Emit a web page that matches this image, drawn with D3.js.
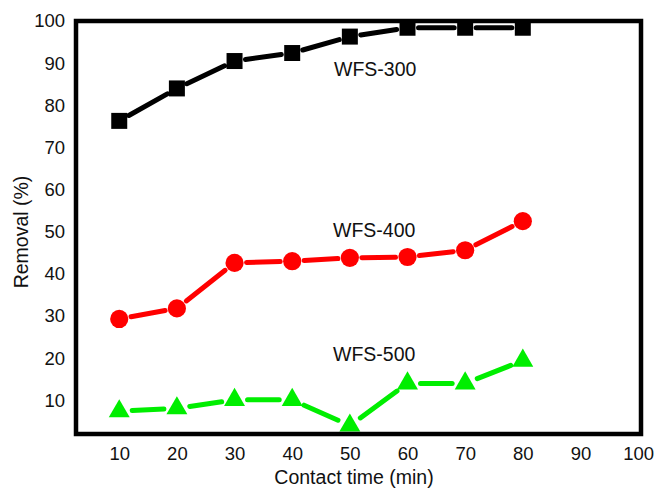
<!DOCTYPE html>
<html>
<head>
<meta charset="utf-8">
<script src="https://cdn.jsdelivr.net/npm/d3@7"></script>
<style>
  body { margin: 0; background: #fff; }
  svg text { font-family: "Liberation Sans", Arial, Helvetica, sans-serif; fill: #111; }
</style>
</head>
<body>
<div id="chart"></div>
<script>
// contact time (min)
const times = [10, 20, 30, 40, 50, 60, 70, 80];
// removal (%)
const wfs300 = [76.3, 84, 90.5, 92.4, 96.3, 98.4, 98.4, 98.4];
const wfs400 = [29.3, 31.8, 42.6, 43, 43.8, 44, 45.6, 52.5];
const wfs500 = [7.4, 8.1, 10.1, 10.1, 4, 14, 14, 19.4];
const xTicks = [10, 20, 30, 40, 50, 60, 70, 80, 90, 100];
const yTicks = [10, 20, 30, 40, 50, 60, 70, 80, 90, 100];

const width = 658, height = 488;
const plotLeft = 76, plotRight = 641, plotTop = 21, plotBottom = 434;

const svg = d3.select('#chart').append('svg')
  .attr('width', width)
  .attr('height', height);

const x = d3.scaleLinear().domain([2.5, 100.5]).range([plotLeft, plotRight]);
const y = d3.scaleLinear().domain([2, 100]).range([plotBottom, plotTop]);

// axes without tick marks, just the labels
const xAxis = svg.append('g')
  .attr('transform', `translate(0,${plotBottom})`)
  .call(d3.axisBottom(x).tickValues(xTicks).tickSize(0).tickPadding(13));
const yAxis = svg.append('g')
  .attr('transform', `translate(${plotLeft},0)`)
  .call(d3.axisLeft(y).tickValues(yTicks).tickSize(0).tickPadding(11));
[xAxis, yAxis].forEach(g => {
  g.select('.domain').remove();
  g.selectAll('text').attr('font-size', 18.5).style('fill', '#111')
    .attr('font-family', '"Liberation Sans", Arial, sans-serif');
});

const series = [
  { name: 'WFS-300', values: wfs300, color: '#000000', shape: 'square', gap: 11, label: [334, 76] },
  { name: 'WFS-400', values: wfs400, color: '#ff0000', shape: 'circle', gap: 12, label: [333, 237] },
  { name: 'WFS-500', values: wfs500, color: '#00ee00', shape: 'triangle', gap: 13, label: [333, 361] }
];

series.forEach(s => {
  const pts = times.map((t, i) => [x(t), y(s.values[i])]);
  const segs = d3.pairs(pts).map(([a, b]) => {
    const dx = b[0] - a[0], dy = b[1] - a[1];
    const len = Math.hypot(dx, dy);
    const ux = dx / len, uy = dy / len;
    return [a[0] + ux * s.gap, a[1] + uy * s.gap, b[0] - ux * s.gap, b[1] - uy * s.gap];
  });
  svg.append('g').selectAll('line')
    .data(segs)
    .join('line')
    .attr('x1', d => d[0]).attr('y1', d => d[1])
    .attr('x2', d => d[2]).attr('y2', d => d[3])
    .attr('stroke', s.color)
    .attr('stroke-width', 5)
    .attr('stroke-linecap', 'round');

  const sym = s.shape === 'square' ? d3.symbolSquare
    : s.shape === 'circle' ? d3.symbolCircle : d3.symbolTriangle;
  const size = s.shape === 'square' ? 256 : s.shape === 'circle' ? 260 : 190;
  svg.append('g').selectAll('path')
    .data(pts)
    .join('path')
    .attr('transform', d => `translate(${d[0]},${d[1]})`)
    .attr('d', d3.symbol(sym, size))
    .attr('fill', s.color);

  svg.append('text')
    .attr('x', s.label[0])
    .attr('y', s.label[1])
    .attr('font-size', 19.5)
    .text(s.name);
});

// thick frame
svg.append('rect')
  .attr('x', plotLeft).attr('y', plotTop)
  .attr('width', plotRight - plotLeft).attr('height', plotBottom - plotTop)
  .attr('fill', 'none')
  .attr('stroke', '#000')
  .attr('stroke-width', 4.5);

svg.append('text')
  .attr('x', 354)
  .attr('y', 484)
  .attr('text-anchor', 'middle')
  .attr('font-size', 19.5)
  .text('Contact time (min)');

svg.append('text')
  .attr('transform', 'translate(28,232) rotate(-90)')
  .attr('text-anchor', 'middle')
  .attr('font-size', 19.5)
  .text('Removal (%)');
</script>
</body>
</html>
